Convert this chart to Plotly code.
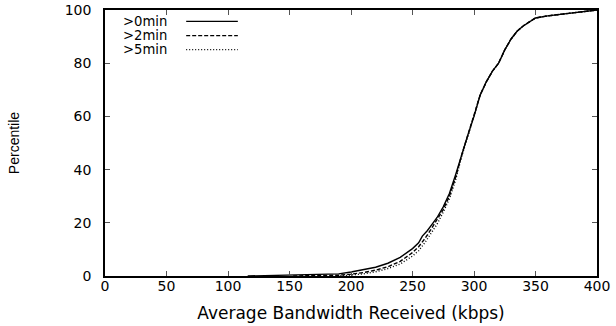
import plotly.graph_objects as go

# CDF of average received bandwidth, split by session length
bw_0min = [116, 130, 150, 170, 190, 200, 210, 220, 230, 240, 250, 255, 258, 262, 266,
           270, 275, 280, 285, 290, 295, 300, 305, 310, 315, 320, 325, 330, 335, 340,
           345, 350, 360, 370, 380, 390, 400]
pct_0min = [0, 0.1, 0.3, 0.5, 0.8, 1.5, 2.3, 3.3, 4.8, 7, 10.3, 12.5, 15, 17, 19.5,
            22, 26, 31, 38, 46, 53, 60, 68, 73, 77, 80, 85, 89, 92, 94,
            95.5, 97, 97.8, 98.4, 99, 99.5, 100]

bw_2min = [153, 170, 190, 200, 210, 220, 230, 240, 250, 255, 260, 265, 270, 275, 280,
           285, 290, 295, 300, 305, 310, 315, 320, 325, 330, 335, 340, 345, 350, 360,
           370, 380, 390, 400]
pct_2min = [0, 0.1, 0.3, 0.7, 1.3, 2.2, 3.5, 5.5, 8.8, 11, 14, 17.5, 21, 25, 30,
            37, 45.5, 53, 60, 68, 73, 77, 80, 85, 89, 92, 94, 95.5, 97, 97.8,
            98.4, 99, 99.5, 100]

bw_5min = [191, 200, 210, 220, 230, 240, 250, 255, 260, 265, 270, 275, 280, 285, 290,
           295, 300, 305, 310, 315, 320, 325, 330, 335, 340, 345, 350, 360, 370, 380,
           390, 400]
pct_5min = [0, 0.3, 0.8, 1.6, 2.8, 4.5, 7.5, 9.5, 12.5, 16, 19.5, 24, 29, 36, 45,
            52.5, 60, 68, 73, 77, 80, 85, 89, 92, 94, 95.5, 97, 97.8, 98.4, 99,
            99.5, 100]

series = [
    (">0min", bw_0min, pct_0min, "solid"),
    (">2min", bw_2min, pct_2min, "4px,2px"),
    (">5min", bw_5min, pct_5min, "1px,2px"),
]

x_ticks = [0, 50, 100, 150, 200, 250, 300, 350, 400]
y_ticks = [0, 20, 40, 60, 80, 100]

fig = go.Figure()
for name, xs, ys, dash in series:
    fig.add_trace(go.Scatter(x=xs, y=ys, mode="lines", name=name,
                             line=dict(color="black", width=1.4, dash=dash)))

# Legend drawn inside the plot: label on the left, line sample on the right
legend_rows = [0.957, 0.904, 0.851]
for (name, _, _, dash), yp in zip(series, legend_rows):
    fig.add_annotation(x=0.034, y=yp, xref="paper", yref="paper", text=name,
                       showarrow=False, xanchor="left", yanchor="middle",
                       borderpad=0,
                       font=dict(family="DejaVu Sans", size=13.2, color="black"))
    fig.add_shape(type="line", xref="paper", yref="paper",
                  x0=0.165, x1=0.27, y0=yp, y1=yp,
                  line=dict(color="black", width=1.2, dash=dash))

axis_common = dict(showgrid=False, zeroline=False, showline=True, linecolor="black",
                   linewidth=1.5, mirror="ticks", ticks="inside", ticklen=5,
                   tickwidth=1, tickcolor="#555555", automargin=False,
                   tickfont=dict(family="DejaVu Sans", size=14, color="black"))

fig.update_xaxes(range=[0, 400], tickvals=x_ticks,
                 title=dict(text="Average Bandwidth Received (kbps)", standoff=15,
                            font=dict(family="DejaVu Sans", size=17, color="black")),
                 ticklabelstandoff=-4, **axis_common)
fig.update_yaxes(range=[0, 100], tickvals=y_ticks,
                 title=dict(text="Percentile", standoff=42,
                            font=dict(family="Liberation Sans", size=14, color="black")),
                 ticklabelstandoff=9, **axis_common)

fig.update_layout(width=616, height=326, showlegend=False,
                  plot_bgcolor="white", paper_bgcolor="white",
                  margin=dict(l=105, r=19, t=10, b=50))

fig.write_html("out.html")
